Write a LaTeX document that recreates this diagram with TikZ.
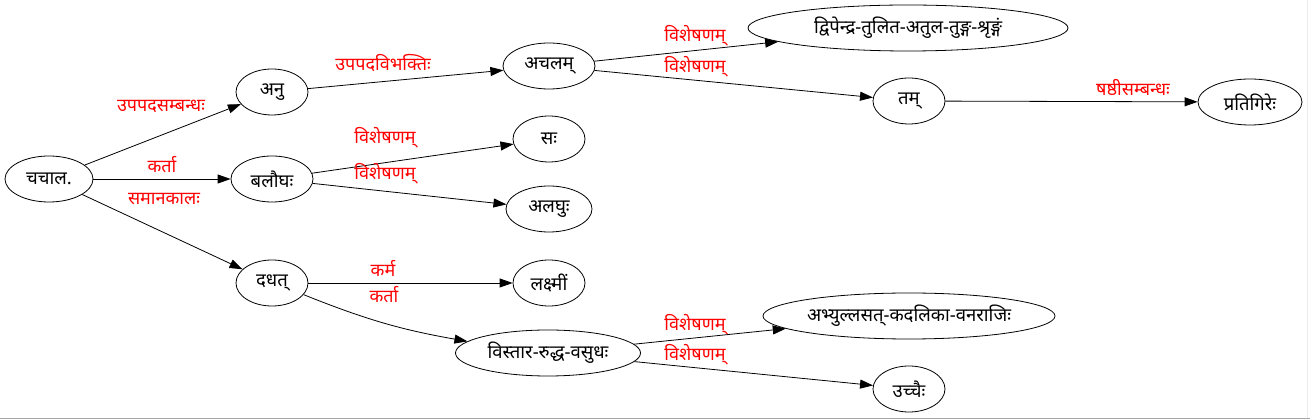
\documentclass[tikz,border=0pt]{standalone}
\usepackage{fontspec}
\setmainfont{Noto Sans}[Script=Devanagari]
\usepackage{tikz}
\usetikzlibrary{arrows.meta,shapes}
\tikzstyle{word} = [draw, ellipse, line width=0.8pt, inner sep=0pt,
    minimum width=72pt, minimum height=46pt, font=\fontsize{18.5}{20}\selectfont]
\tikzstyle{rel} = [text=red, inner sep=0pt, font=\fontsize{18}{20}\selectfont]
\tikzstyle{link} = [-{Triangle[length=13pt,width=9pt]}, line width=0.8pt]

\begin{document}
\begin{tikzpicture}[x=1pt, y=-1pt]
  \useasboundingbox (0,0) rectangle (1310,419);
  % Place nodes
  \node [word, minimum width=88pt] (w1) at (49,179) {चचाल.};
  \node [word] (w2) at (272,92) {अनु};
  \node [word, minimum width=82pt] (w3) at (272,179) {बलौघः};
  \node [word] (w4) at (272,283) {दधत्};
  \node [word, minimum width=92pt] (w5) at (549,66) {अचलम्};
  \node [word] (w6) at (549,139) {सः};
  \node [word, minimum width=86pt] (w7) at (549,209) {अलघुः};
  \node [word] (w8) at (549,283) {लक्ष्मीं};
  \node [word, minimum width=185pt] (w9) at (548,353) {विस्तार-रुद्ध-वसुधः};
  \node [word, minimum width=320pt] (w10) at (908,28) {द्विपेन्द्र-तुलित-अतुल-तुङ्ग-श्रृङ्गं};
  \node [word] (w11) at (909,101) {तम्};
  \node [word, minimum width=292pt] (w12) at (909,316) {अभ्युल्लसत्-कदलिका-वनराजिः};
  \node [word] (w13) at (909,389) {उच्चैः};
  \node [word, minimum width=104pt] (w14) at (1250,102) {प्रतिगिरेः};

  % Edges
  \draw [link] (w1) -- (w2);
  \draw [link] (w1) -- (w3);
  \draw [link] (w1) -- (w4);
  \draw [link] (w2) -- (w5);
  \draw [link] (w3) -- (w6);
  \draw [link] (w3) -- (w7);
  \draw [link] (w4) -- (w8);
  \draw [link] (w4) to [bend right=6] (w9);
  \draw [link] (w5) -- (w10);
  \draw [link] (w5) -- (w11);
  \draw [link] (w11) -- (w14);
  \draw [link] (w9) -- (w12);
  \draw [link] (w9) -- (w13);

  % Edge labels
  \node [rel] (e1) at (161,106) {उपपदसम्बन्धः};
  \node [rel] (e2) at (162,165) {कर्ता};
  \node [rel] (e3) at (164,199) {समानकालः};
  \node [rel] (e4) at (383,63) {उपपदविभक्तिः};
  \node [rel] (e5) at (385,138) {विशेषणम्};
  \node [rel] (e6) at (385,174) {विशेषणम्};
  \node [rel] (e7) at (383,268) {कर्म};
  \node [rel] (e8) at (384,295) {कर्ता};
  \node [rel] (e9) at (695,36) {विशेषणम्};
  \node [rel] (e10) at (695,67) {विशेषणम्};
  \node [rel] (e11) at (1133,88) {षष्ठीसम्बन्धः};
  \node [rel] (e12) at (695,325) {विशेषणम्};
  \node [rel] (e13) at (695,355) {विशेषणम्};

  % frame
  \draw [gray!70, line width=1pt] (0,418.5) -- (1310,418.5);
  \draw [gray!15, line width=1pt] (1307.5,0) -- (1307.5,418);
\end{tikzpicture}
\end{document}
